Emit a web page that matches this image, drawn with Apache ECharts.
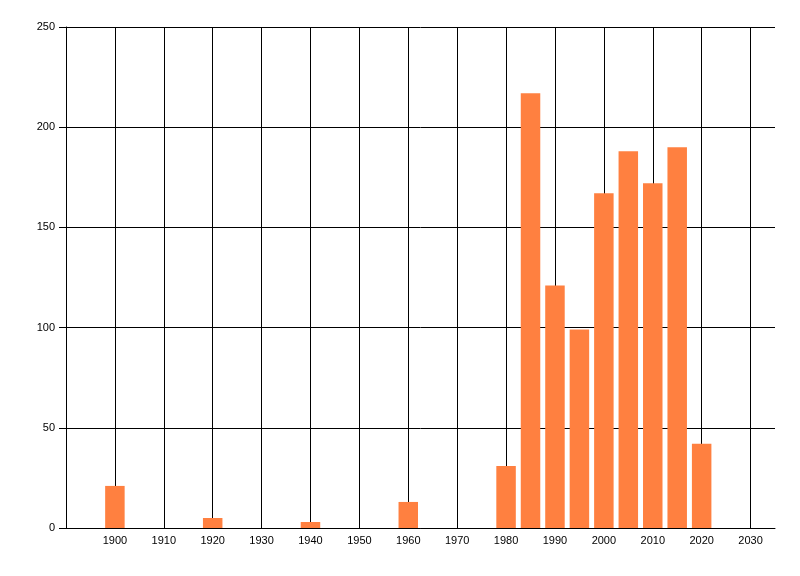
<!DOCTYPE html>
<html>
<head>
<meta charset="utf-8">
<script src="https://cdn.jsdelivr.net/npm/echarts@6/dist/echarts.min.js"></script>
<style>html,body{margin:0;padding:0;background:#fff;}#c{width:800px;height:576px;}</style>
</head>
<body>
<div id="c"></div>
<script>
var years = [1900, 1920, 1940, 1960, 1980, 1985, 1990, 1995, 2000, 2005, 2010, 2015, 2020];
var counts = [21, 5, 3, 13, 31, 217, 121, 99, 167, 188, 172, 190, 42];

var chart = echarts.init(document.getElementById('c'));
var font = 'Liberation Sans, Arial, sans-serif';
chart.setOption({
  animation: false,
  backgroundColor: '#ffffff',
  grid: {left: 66, right: 25, top: 27, bottom: 48, containLabel: false},
  xAxis: {
    type: 'value', min: 1890, max: 2035, interval: 10,
    axisLine: {show: true, lineStyle: {color: '#000', width: 1}},
    axisTick: {show: false},
    axisLabel: {
      color: '#000', fontFamily: font, fontSize: 11, margin: 7,
      formatter: function (v) { return (v % 10 === 0 && v !== 1890) ? String(v) : ''; }
    },
    splitLine: {show: true, showMaxLine: false, lineStyle: {color: '#000', width: 1}}
  },
  yAxis: {
    type: 'value', min: 0, max: 250, interval: 50,
    axisLine: {show: true, lineStyle: {color: '#000', width: 1}},
    axisTick: {show: true, length: 7, lineStyle: {color: '#000'}},
    axisLabel: {color: '#000', fontFamily: font, fontSize: 11, margin: 11},
    splitLine: {show: true, lineStyle: {color: '#000', width: 1}}
  },
  series: [{
    type: 'bar',
    barWidth: 19.5,
    itemStyle: {color: '#FF8040'},
    data: years.map(function (y, i) { return [y, counts[i]]; })
  }]
});
</script>
</body>
</html>
